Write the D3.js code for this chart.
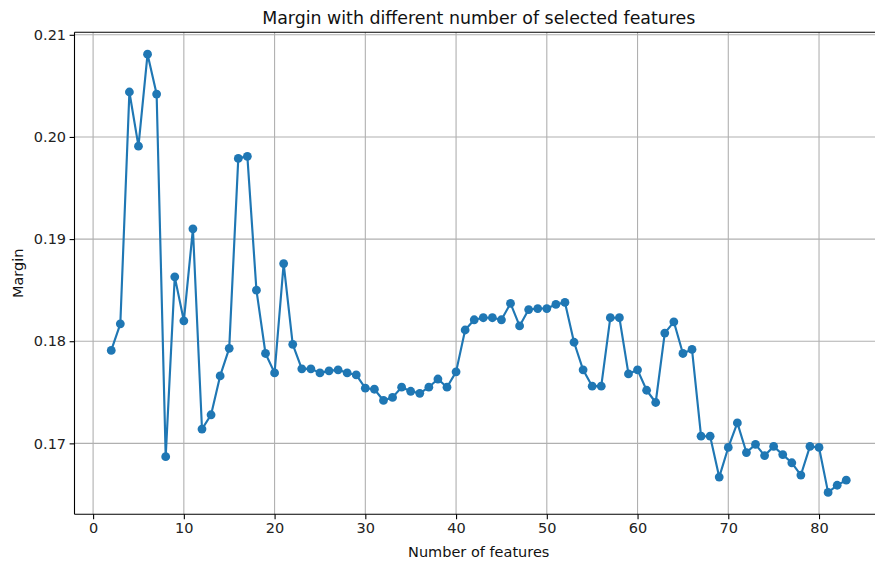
<!DOCTYPE html>
<html>
<head>
<meta charset="utf-8">
<script src="https://cdn.jsdelivr.net/npm/d3@7"></script>
<style>
  html, body { margin: 0; padding: 0; background: #fff; }
  svg { display: block; font-family: "DejaVu Sans", sans-serif; }
</style>
</head>
<body>
<svg id="chart" width="875" height="567"></svg>
<script>
// Number of selected features (x) and the resulting margin (y)
const features = d3.range(2, 84);
const margins = [
  0.1791, 0.1817, 0.2044, 0.1991, 0.2081, 0.2042, 0.1687, 0.1863, 0.1820, 0.1910,
  0.1714, 0.1728, 0.1766, 0.1793, 0.1979, 0.1981, 0.1850, 0.1788, 0.1769, 0.1876,
  0.1797, 0.1773, 0.1773, 0.1769, 0.1771, 0.1772, 0.1769, 0.1767, 0.1754, 0.1753,
  0.1742, 0.1745, 0.1755, 0.1751, 0.1749, 0.1755, 0.1763, 0.1755, 0.1770, 0.1811,
  0.1821, 0.1823, 0.1823, 0.1821, 0.1837, 0.1815, 0.1831, 0.1832, 0.1832, 0.1836,
  0.1838, 0.1799, 0.1772, 0.1756, 0.1756, 0.1823, 0.1823, 0.1768, 0.1772, 0.1752,
  0.1740, 0.1808, 0.1819, 0.1788, 0.1792, 0.1707, 0.1707, 0.1667, 0.1696, 0.1720,
  0.1691, 0.1699, 0.1688, 0.1697, 0.1689, 0.1681, 0.1669, 0.1697, 0.1696, 0.1652,
  0.1659, 0.1664
];
const xTicks = [0, 10, 20, 30, 40, 50, 60, 70, 80];
const yTicks = [0.17, 0.18, 0.19, 0.20, 0.21];
const titleText = "Margin with different number of selected features";
const xLabelText = "Number of features";
const yLabelText = "Margin";

const data = features.map((f, i) => ({ x: f, y: margins[i] }));

const svg = d3.select("#chart");
const plot = { left: 74.5, top: 32.3, right: 883, bottom: 514.3 };

// 5% padding around the data range on both axes
const xMin = d3.min(features), xMax = d3.max(features);
const yMin = d3.min(margins), yMax = d3.max(margins);
const xPad = (xMax - xMin) * 0.05, yPad = (yMax - yMin) * 0.05;

const x = d3.scaleLinear().domain([xMin - xPad, xMax + xPad]).range([plot.left, plot.right]);
const y = d3.scaleLinear().domain([yMin - yPad, yMax + yPad]).range([plot.bottom, plot.top]);

const color = "#1f77b4";
const tickFont = "14.5px";

// grid
const grid = svg.append("g").attr("stroke", "#b0b0b0").attr("stroke-width", 1.1);
grid.selectAll("line.gx").data(xTicks).join("line")
  .attr("x1", d => x(d)).attr("x2", d => x(d))
  .attr("y1", plot.top).attr("y2", plot.bottom);
grid.selectAll("line.gy").data(yTicks).join("line")
  .attr("x1", plot.left).attr("x2", plot.right)
  .attr("y1", d => y(d)).attr("y2", d => y(d));

// line + markers
svg.append("path").datum(data)
  .attr("fill", "none").attr("stroke", color).attr("stroke-width", 2.15)
  .attr("stroke-linejoin", "round").attr("stroke-linecap", "square")
  .attr("d", d3.line().x(d => x(d.x)).y(d => y(d.y)));
svg.append("g").selectAll("circle").data(data).join("circle")
  .attr("cx", d => x(d.x)).attr("cy", d => y(d.y)).attr("r", 4.4)
  .attr("fill", color);

// axes
const xAxis = d3.axisBottom(x).tickValues(xTicks).tickFormat(d3.format("d"))
  .tickSizeInner(4.9).tickSizeOuter(0).tickPadding(3.5);
const yAxis = d3.axisLeft(y).tickValues(yTicks).tickFormat(d3.format(".2f"))
  .tickSizeInner(4.9).tickSizeOuter(0).tickPadding(3.5);

const gx = svg.append("g").attr("transform", `translate(0,${plot.bottom})`).call(xAxis);
const gy = svg.append("g").attr("transform", `translate(${plot.left},0)`).call(yAxis);
[gx, gy].forEach(g => {
  g.select(".domain").remove();
  g.selectAll(".tick line").attr("stroke", "#000").attr("stroke-width", 1.1);
  g.selectAll(".tick text").attr("fill", "#222").style("font-size", tickFont)
    .style("font-family", "'DejaVu Sans', sans-serif");
});

// spines: left, bottom and top (the right edge lies past the canvas)
const spines = svg.append("g").attr("stroke", "#000").attr("stroke-width", 1.1).attr("fill", "none");
spines.append("line").attr("x1", plot.left).attr("x2", plot.left).attr("y1", plot.top).attr("y2", plot.bottom);
spines.append("line").attr("x1", plot.left).attr("x2", plot.right).attr("y1", plot.bottom).attr("y2", plot.bottom);
spines.append("line").attr("x1", plot.left).attr("x2", plot.right).attr("y1", plot.top).attr("y2", plot.top);

const cx = (plot.left + plot.right) / 2;
svg.append("text").attr("x", cx).attr("y", plot.top - 8.5)
  .attr("text-anchor", "middle").attr("fill", "#111").style("font-size", "17.4px").text(titleText);
svg.append("text").attr("x", cx).attr("y", 557)
  .attr("text-anchor", "middle").attr("fill", "#111").style("font-size", tickFont).text(xLabelText);
svg.append("text")
  .attr("transform", `translate(23,${(plot.top + plot.bottom) / 2}) rotate(-90)`)
  .attr("text-anchor", "middle").attr("fill", "#111").style("font-size", tickFont).text(yLabelText);
</script>
</body>
</html>
